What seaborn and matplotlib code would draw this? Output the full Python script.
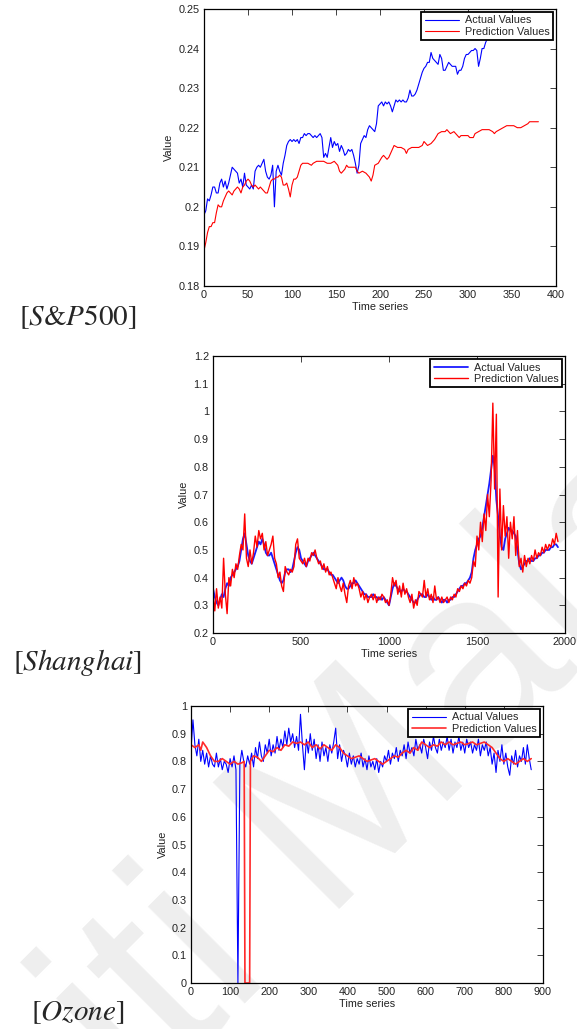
import numpy as np
import matplotlib
matplotlib.use("Agg")
import matplotlib.pyplot as plt
from matplotlib.ticker import FuncFormatter
import seaborn as sns

sns.set_style("white")
plt.rcParams['font.family'] = ['Liberation Sans', 'DejaVu Sans']
plt.rcParams['mathtext.fontset'] = 'stix'

# ---- S&P500 ----
sp_actual_x = np.arange(0, 382, 2)
sp_actual = [
    .198, .199, .202, .2015, .203, .205, .205, .2035, .2035, .206,
    .207, .205, .2065, .2045, .206, .208, .210, .2095, .209, .2085,
    .206, .207, .205, .2085, .2055, .205, .2045, .2055, .2045, .209,
    .210, .2105, .210, .211, .212, .209, .2075, .207, .208, .2105,
    .200, .209, .2105, .209, .208, .211, .213, .2155, .2165, .217,
    .2165, .217, .2165, .217, .216, .2175, .2175, .2185, .218, .2185,
    .2185, .218, .2175, .218, .2175, .218, .2185, .2175, .2125, .2135,
    .2125, .215, .2175, .215, .2165, .2155, .216, .214, .2155, .2145,
    .213, .2135, .2145, .214, .2145, .213, .211, .2085, .2105, .216,
    .217, .218, .2175, .2195, .2205, .220, .2195, .219, .221, .2255,
    .226, .2265, .2255, .2265, .226, .2265, .2255, .224, .2255, .227,
    .2265, .227, .2265, .227, .2265, .2265, .2275, .2295, .228, .228,
    .2285, .2295, .231, .2325, .234, .235, .2355, .2365, .2365, .239,
    .2375, .237, .2365, .236, .2385, .2375, .2345, .2345, .2355, .2365,
    .236, .2355, .2355, .2355, .2335, .2345, .2345, .2355, .2375, .2385,
    .2385, .239, .2395, .2395, .240, .2395, .2355, .2375, .240, .240,
    .2415, .2425, .243, .2435, .244, .2445, .2445, .245, .2445, .245,
    .2455, .246, .2455, .246, .2465, .246, .2465, .247, .2465, .247,
    .2475, .247, .2475, .2475, .248, .2475, .248, .2475, .248, .248,
    .2475,
]
sp_pred_x = list(range(0, 116, 2)) + [
    118, 122, 124, 128, 132, 136, 140, 144, 148, 152, 154, 156, 158, 160,
    162, 164, 168, 172, 174, 176, 180, 184, 188, 190, 192, 194, 198, 202,
    204, 206, 208, 210, 212, 214, 216, 220, 224, 228, 230, 232, 236, 240,
    244, 248, 250, 252, 254, 258, 262, 266, 270, 274, 276, 278, 280, 284,
    288, 290, 292, 296, 300, 302, 306, 308, 312, 316, 320, 324, 328, 330,
    332, 336, 340, 344, 348, 352, 356, 360, 364, 368, 370, 376, 380]
sp_pred = [
    .189, .191, .1935, .195, .195, .196, .196, .1985, .2005, .200,
    .200, .2015, .2025, .2035, .204, .2035, .203, .204, .2045, .205,
    .2045, .2035, .205, .2055, .2065, .207, .2065, .2055, .205, .2055,
    .205, .2045, .205, .2045, .204, .2035, .2035, .205, .2065, .207,
    .207, .2075, .2075, .208, .2075, .2055, .2055, .206, .2045, .2025,
    .2055, .207, .207, .2075, .209, .2105, .211, .211,
    .211, .2105, .211, .2115, .2115, .2115, .211, .211, .2115, .2105,
    .209, .2085, .209, .2095, .2105, .210, .210, .210, .209, .2085,
    .209, .2085, .2075, .2065, .208, .2105, .211, .2125, .213, .2125,
    .212, .2125, .2135, .2145, .2155, .215, .215, .2145, .2135, .2145,
    .215, .215, .215, .2155, .2165, .216, .2155, .216, .217, .2185,
    .219, .219, .2195, .219, .2185, .219, .218, .2175, .218, .218,
    .218, .2175, .2175, .2185, .219, .2195, .2195, .2195, .219, .2185,
    .219, .2195, .220, .2205, .2205, .2205, .220, .220, .2205, .221,
    .2215, .2215, .2215,
]

# ---- Shanghai ----
sh_x = np.arange(0, 1970, 10)
sh_actual = [
    .36, .33, .31, .30, .32, .34, .33, .36, .38, .37,
    .40, .41, .42, .43, .44, .46, .50, .54, .56, .52,
    .48, .46, .45, .47, .49, .51, .53, .52, .54, .52,
    .49, .48, .48, .49, .47, .45, .43, .41, .39, .38,
    .39, .42, .43, .43, .42, .43, .46, .49, .51, .50,
    .47, .46, .45, .44, .46, .47, .48, .49, .48, .47,
    .46, .45, .44, .43, .43, .43, .42, .41, .41, .40,
    .39, .38, .39, .40, .39, .37, .36, .36, .37, .38,
    .38, .39, .38, .37, .36, .35, .34, .34, .33, .33,
    .33, .34, .33, .33, .32, .33, .32, .33, .32, .31,
    .30, .33, .36, .38, .37, .36, .35, .35, .36, .35,
    .35, .34, .33, .32, .31, .31, .32, .33, .34, .34,
    .33, .33, .34, .33, .32, .33, .32, .32, .33, .32,
    .31, .32, .32, .31, .32, .32, .33, .33, .34, .35,
    .36, .37, .37, .38, .38, .39, .40, .42, .47, .50,
    .52, .54, .55, .58, .62, .66, .70, .74, .79, .84,
    .80, .68, .62, .55, .51, .50, .54, .56, .58, .57,
    .57, .56, .55, .50, .45, .43, .44, .45, .46, .46,
    .47, .46, .46, .47, .47, .48, .48, .49, .49, .50,
    .50, .50, .51, .51, .52, .52, .51,
]
sh_pred = [
    .34, .28, .36, .29, .33, .29, .47, .34, .27, .40,
    .37, .43, .40, .45, .43, .48, .52, .50, .63, .47,
    .44, .50, .45, .49, .55, .51, .57, .54, .56, .50,
    .53, .48, .50, .52, .55, .47, .45, .40, .42, .37,
    .35, .44, .42, .41, .43, .42, .44, .52, .54, .47,
    .46, .45, .47, .44, .47, .46, .49, .48, .50, .47,
    .45, .46, .43, .45, .42, .44, .41, .42, .40, .38,
    .36, .40, .37, .35, .38, .34, .31, .37, .39, .36,
    .40, .37, .38, .36, .33, .35, .32, .34, .31, .33,
    .34, .32, .34, .31, .33, .32, .34, .33, .31, .32,
    .30, .34, .40, .37, .39, .34, .37, .33, .38, .34,
    .36, .33, .31, .34, .29, .32, .30, .35, .34, .33,
    .39, .33, .36, .32, .34, .31, .37, .32, .33, .31,
    .33, .31, .32, .33, .31, .33, .32, .34, .33, .36,
    .35, .37, .36, .38, .37, .39, .38, .40, .46, .44,
    .55, .50, .60, .53, .63, .57, .70, .62, .75, 1.03,
    .72, .99, .33, .72, .50, .66, .55, .62, .47, .60,
    .54, .62, .48, .57, .44, .47, .42, .48, .44, .47,
    .45, .48, .46, .50, .47, .49, .48, .51, .49, .52,
    .50, .52, .51, .54, .52, .56, .53,
]

# ---- Ozone ----
oz_actual_x = np.arange(0, 875, 5)
oz_actual = [
    .84, .95, .86, .82, .88, .80, .84, .79, .83, .78,
    .82, .79, .78, .83, .78, .81, .77, .80, .79, .76,
    .81, .78, .82, .77, .00, .79, .84, .80, .78, .82,
    .79, .83, .78, .85, .81, .87, .82, .80, .86, .83,
    .88, .82, .86, .83, .89, .84, .88, .85, .91, .86,
    .92, .87, .90, .85, .89, .84, .97, .86, .77, .88,
    .83, .90, .84, .88, .81, .86, .80, .87, .82, .85,
    .80, .86, .83, .87, .92, .81, .86, .80, .84, .82,
    .78, .83, .79, .82, .78, .81, .79, .83, .78, .81,
    .77, .82, .78, .80, .77, .81, .76, .80, .78, .82,
    .80, .84, .79, .83, .81, .85, .80, .84, .82, .86,
    .81, .87, .83, .85, .82, .88, .84, .86, .83, .88,
    .85, .81, .87, .84, .89, .85, .83, .88, .84, .87,
    .85, .89, .84, .88, .83, .87, .85, .89, .84, .87,
    .83, .88, .85, .87, .83, .86, .84, .88, .82, .86,
    .84, .87, .82, .85, .79, .83, .76, .84, .80, .86,
    .79, .83, .78, .75, .82, .79, .84, .78, .82, .80,
    .85, .79, .86, .81, .77,
]
oz_pred_x = [0, 10, 20, 25, 30, 40, 50, 55, 60, 70, 80, 90, 100, 110, 120,
             130, 136, 138, 150, 152, 160, 170, 180, 190, 200, 210, 220, 230,
             240, 250, 260, 270, 280, 290, 300, 310, 320, 330, 340, 350, 360,
             370, 380, 390, 400, 410, 420, 430, 440, 450, 460, 470, 480, 490,
             500, 510, 520, 530, 540, 550, 560, 570, 580, 590, 600, 610, 620,
             630, 640, 650, 660, 670, 680, 690, 700, 710, 720, 730, 740, 750,
             760, 770, 780, 790, 800, 810, 820, 830, 840, 850, 860, 870]
oz_pred = [.86, .85, .86, .84, .87, .85, .82, .81, .80, .80, .81, .80, .79, .80, .79,
           .795, .80, .00, .00, .80, .82, .815, .80, .82, .84, .835, .85, .84,
           .86, .855, .87, .865, .87, .86, .87, .85, .86, .845, .86, .85, .84,
           .86, .85, .83, .82, .81, .815, .82, .81, .80, .805, .81, .80, .79,
           .80, .81, .82, .815, .83, .84, .83, .85, .84, .87, .86, .85, .86,
           .855, .87, .86, .87, .86, .865, .87, .86, .865, .87, .86, .865, .87,
           .86, .85, .83, .81, .80, .81, .80, .79, .80, .81, .80, .81]

panels = [
    dict(name="[$S$&$P$500]", xa=sp_actual_x, ya=sp_actual, xp=sp_pred_x, yp=sp_pred,
         xlim=(0, 400), ylim=(0.18, 0.25), xstep=50, ystep=0.01,
         rect=[0.3536, 0.7221, 0.610, 0.2692], lab=(0.135, 0.692),
         ca='#0000ff', cp='#ff0000', wa=0.8, wp=0.8),
    dict(name=r"$[Shanghai]$", xa=sh_x, ya=sh_actual, xp=sh_x, yp=sh_pred,
         xlim=(0, 2000), ylim=(0.2, 1.2), xstep=500, ystep=0.1,
         rect=[0.3692, 0.3848, 0.610, 0.2692], lab=(0.134, 0.356),
         ca='#1a1aff', cp='#ff0000', wa=1.3, wp=1.0),
    dict(name=r"$[Ozone]$", xa=oz_actual_x, ya=oz_actual, xp=oz_pred_x, yp=oz_pred,
         xlim=(0, 900), ylim=(0, 1), xstep=100, ystep=0.1,
         rect=[0.3310, 0.0447, 0.610, 0.2692], lab=(0.135, 0.0155),
         ca='#0000ff', cp='#ff2a2a', wa=0.8, wp=1.2),
]

fig = plt.figure(figsize=(5.77, 10.29), dpi=100)
fig.patch.set_facecolor('white')

# faint watermark behind the plots
fig.text(0.295, 0.044, "Universiti Malaya", rotation=45, color='#eeeeee',
         fontsize=187, ha='center', va='center', zorder=-5)

fmt = FuncFormatter(lambda v, _: f"{round(v, 4):g}")

for p in panels:
    ax = fig.add_axes(p["rect"])
    ax.set_facecolor('none')
    sns.lineplot(x=p["xa"], y=p["ya"], ax=ax, color=p["ca"], lw=p["wa"],
                 label='Actual Values', estimator=None, sort=False)
    sns.lineplot(x=p["xp"], y=p["yp"], ax=ax, color=p["cp"], lw=p["wp"],
                 label='Prediction Values', estimator=None, sort=False)
    ax.set_xlim(*p["xlim"])
    ax.set_ylim(*p["ylim"])
    ax.set_xticks(np.arange(p["xlim"][0], p["xlim"][1] + 1e-9, p["xstep"]))
    ax.set_yticks(np.arange(p["ylim"][0], p["ylim"][1] + 1e-9, p["ystep"]))
    ax.xaxis.set_major_formatter(fmt)
    ax.yaxis.set_major_formatter(fmt)
    ax.tick_params(direction='in', top=True, right=True, length=4, width=0.6,
                   labelsize=7.8, pad=3, colors='#222222')
    for s in ax.spines.values():
        s.set_linewidth(0.9)
        s.set_color('black')
    ax.set_xlabel("Time series", fontsize=7.8, labelpad=1, color='#222222')
    ax.set_ylabel("Value", fontsize=7.8, labelpad=3, color='#222222')
    leg = ax.legend(loc='upper right', fancybox=False, edgecolor='black',
                    framealpha=1, fontsize=7.8, handlelength=3.2,
                    borderaxespad=0.3, borderpad=0.3, labelspacing=0.15,
                    handletextpad=0.5)
    leg.get_frame().set_linewidth(1.3)
    fig.text(p["lab"][0], p["lab"][1], p["name"], fontsize=21,
             family='STIXGeneral', ha='center', va='center')

fig.savefig("out.png", dpi=100, facecolor='white')
